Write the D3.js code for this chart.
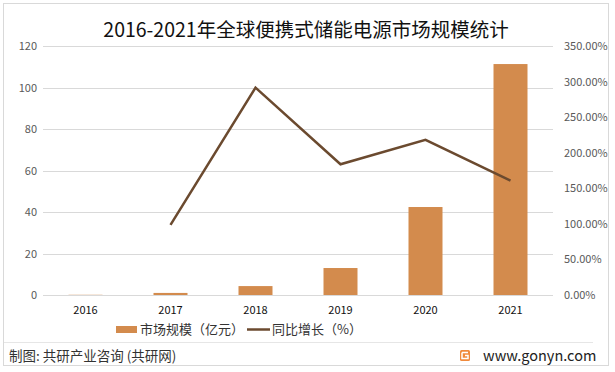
<!DOCTYPE html>
<html>
<head>
    <meta charset="utf-8">
    <title>全球便携式储能电源市场规模</title>
    <script src="https://d3js.org/d3.v7.min.js"></script>
    <style>
        body { margin:0; background:#fff; }
        text { font-family:"Noto Sans CJK SC","Noto Sans",sans-serif; }
    </style>
</head>
<body>
    <script>
    // data
    var years = ["2016","2017","2018","2019","2020","2021"];
    var market = [0.1, 1.0, 4.3, 13.0, 42.4, 111.3];      // 亿元
    var growth = [null, 98.5, 291.5, 183.8, 218.0, 160.8]; // %
    var leftTicks = [0,20,40,60,80,100,120];
    var rightTicks = [0,50,100,150,200,250,300,350];

    var svg = d3.select("body").append("svg")
                .attr("width",615).attr("height",372);

    // frame and footer separator
    svg.append("rect").attr("x",3.5).attr("y",3.5).attr("width",605).attr("height",362)
        .attr("fill","none").attr("stroke","#d9d9d9");
    svg.append("line").attr("x1",4).attr("x2",593).attr("y1",342.5).attr("y2",342.5)
        .attr("stroke","#e6e6e6");

    svg.append("text").attr("x",306).attr("y",37).attr("text-anchor","middle")
        .attr("font-size",19.5).attr("fill","#111")
        .text("2016-2021年全球便携式储能电源市场规模统计");

    var x = d3.scaleBand().domain(years).range([43,553]).paddingInner(0.6).paddingOuter(0.3);
    var yL = d3.scaleLinear().domain([0,120]).range([295,46]);
    var yR = d3.scaleLinear().domain([0,350]).range([295,46]);

    // gridlines
    svg.append("g").selectAll("line").data(leftTicks).enter().append("line")
        .attr("x1",43).attr("x2",553)
        .attr("y1",function(d){return Math.round(yL(d))+0.5;})
        .attr("y2",function(d){return Math.round(yL(d))+0.5;})
        .attr("stroke","#d9d9d9");

    // left axis labels
    svg.append("g").selectAll("text").data(leftTicks).enter().append("text")
        .attr("x",37).attr("y",function(d){return yL(d)+4;})
        .attr("text-anchor","end").attr("font-size",11).attr("fill","#595959")
        .text(function(d){return d;});

    // right axis labels
    svg.append("g").selectAll("text").data(rightTicks).enter().append("text")
        .attr("x",564).attr("y",function(d){return yR(d)+4;})
        .attr("font-size",11).attr("fill","#595959")
        .text(function(d){return d.toFixed(2)+"%";});

    // x labels
    svg.append("g").selectAll("text").data(years).enter().append("text")
        .attr("x",function(d){return x(d)+x.bandwidth()/2;}).attr("y",314)
        .attr("text-anchor","middle").attr("font-size",11).attr("fill","#111")
        .text(function(d){return d;});

    // bars
    svg.append("g").selectAll("rect").data(market).enter().append("rect")
        .attr("x",function(d,i){return x(years[i]);})
        .attr("width",x.bandwidth())
        .attr("y",function(d){return yL(d);})
        .attr("height",function(d){return yL(0)-yL(d);})
        .attr("fill","#d38b4d");

    // growth line
    var line = d3.line()
        .defined(function(d){return d!=null;})
        .x(function(d,i){return x(years[i])+x.bandwidth()/2;})
        .y(function(d){return yR(d);});
    svg.append("path").datum(growth).attr("d",line)
        .attr("fill","none").attr("stroke","#6b4a2f").attr("stroke-width",2.5);

    // legend
    var lg = svg.append("g").attr("font-size",13).attr("fill","#333");
    lg.append("rect").attr("x",116).attr("y",326).attr("width",21).attr("height",7).attr("fill","#d38b4d");
    lg.append("text").attr("x",140).attr("y",334).text("市场规模（亿元）");
    lg.append("line").attr("x1",247).attr("x2",270).attr("y1",329.5).attr("y2",329.5)
        .attr("stroke","#6b4a2f").attr("stroke-width",2.5);
    lg.append("text").attr("x",272).attr("y",334).text("同比增长（%）");

    // footer
    svg.append("text").attr("x",9).attr("y",361).attr("font-size",13.5).attr("fill","#333")
        .text("制图: 共研产业咨询 (共研网)");
    var logo = svg.append("g").attr("transform","translate(460,350)");
    logo.append("rect").attr("width",10).attr("height",11).attr("rx",1.5).attr("fill","#f08a3c");
    logo.append("path").attr("d","M2,2.5H8M5,5.5H8V8.5H2V2.5").attr("fill","none")
        .attr("stroke","#fff").attr("stroke-width",1.5);
    svg.append("text").attr("x",483).attr("y",361).attr("font-size",14.5).attr("fill","#222")
        .attr("font-family","'Open Sans','DejaVu Sans',sans-serif")
        .text("www.gonyn.com");
    </script>
</body>
</html>
